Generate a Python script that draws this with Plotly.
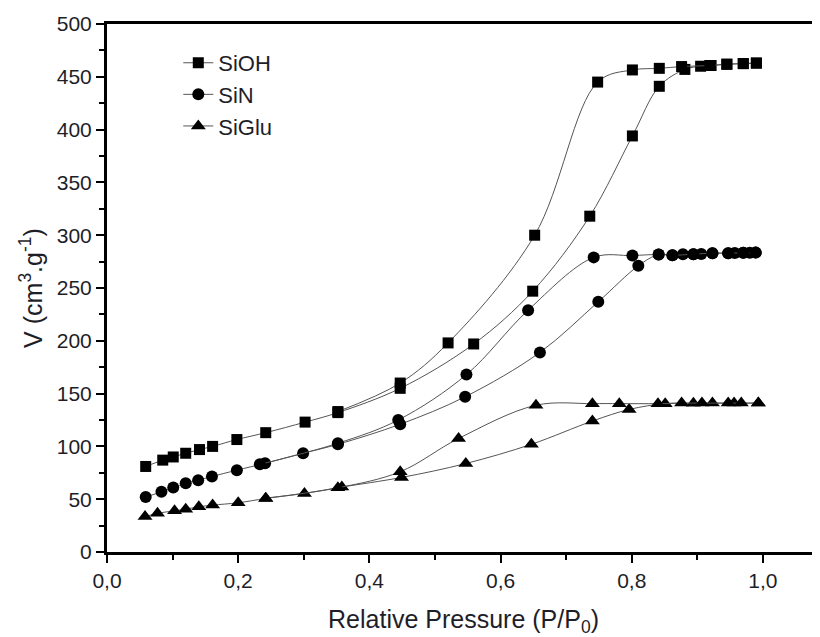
import plotly.graph_objects as go

# SiOH (squares)
sioh_ads_x = [0.059, 0.085, 0.101, 0.120, 0.141, 0.161, 0.198, 0.242, 0.302, 0.352, 0.447, 0.559, 0.649, 0.736, 0.801, 0.842, 0.881, 0.905, 0.921, 0.945, 0.970, 0.990]
sioh_ads_y = [81, 87, 90, 93.5, 97, 100, 106.5, 113, 123, 132, 155, 197, 247, 318, 394, 441, 457, 460, 460.7, 461.9, 462.5, 463]
sioh_des_x = [0.990, 0.970, 0.945, 0.919, 0.876, 0.842, 0.801, 0.748, 0.652, 0.520, 0.447, 0.352]
sioh_des_y = [463, 462.5, 461.9, 460.7, 459.7, 458, 456.5, 445, 300, 198, 160, 133]

# SiN (circles)
sin_ads_x = [0.059, 0.083, 0.101, 0.120, 0.139, 0.160, 0.198, 0.241, 0.299, 0.352, 0.447, 0.546, 0.660, 0.749, 0.810, 0.841, 0.862, 0.878, 0.894, 0.906, 0.923, 0.947, 0.957, 0.970, 0.980, 0.989]
sin_ads_y = [52, 57, 61, 65, 68, 71.5, 77.5, 84, 93.5, 102, 121, 147, 189, 237, 271, 281.7, 281, 282, 282, 282.3, 283, 283, 283.2, 283.3, 283.4, 283.5]
sin_des_x = [0.989, 0.970, 0.947, 0.923, 0.894, 0.862, 0.841, 0.801, 0.742, 0.642, 0.548, 0.444, 0.352, 0.233]
sin_des_y = [283.5, 283.3, 283, 283, 282, 281, 281.7, 280.7, 279, 229, 168, 125, 103, 83]

# SiGlu (triangles)
siglu_ads_x = [0.058, 0.077, 0.103, 0.120, 0.140, 0.161, 0.200, 0.242, 0.301, 0.358, 0.449, 0.547, 0.647, 0.740, 0.796, 0.851, 0.894, 0.923, 0.956, 0.993]
siglu_ads_y = [33.5, 36.6, 39, 40.6, 42.8, 44.4, 46.6, 50.7, 55.5, 61.5, 70.6, 83.8, 102, 124, 135, 140.5, 140.8, 141, 141, 141]
siglu_des_x = [0.993, 0.967, 0.947, 0.907, 0.876, 0.840, 0.781, 0.740, 0.654, 0.536, 0.447, 0.352, 0.242]
siglu_des_y = [141, 141, 141, 141, 141, 140.5, 140.5, 140.5, 139, 107.5, 76, 60.8, 51]

x_tick_vals = [0, 0.2, 0.4, 0.6, 0.8, 1.0]
x_tick_text = ["0,0", "0,2", "0,4", "0,6", "0,8", "1,0"]

series = [
    ("SiOH", "square", 11, sioh_ads_x, sioh_ads_y, sioh_des_x, sioh_des_y),
    ("SiN", "circle", 12, sin_ads_x, sin_ads_y, sin_des_x, sin_des_y),
    ("SiGlu", "triangle-up", 13, siglu_ads_x, siglu_ads_y, siglu_des_x, siglu_des_y),
]

fig = go.Figure()
for name, sym, size, ax, ay, dx, dy in series:
    for i, (xs, ys) in enumerate([(ax, ay), (dx, dy)]):
        fig.add_trace(go.Scatter(
            x=xs, y=ys, mode="lines+markers", name=name,
            legendgroup=name, showlegend=(i == 0),
            line=dict(color="#555555", width=1, shape="spline", smoothing=1),
            marker=dict(symbol=sym, size=size, color="black"),
        ))

font_family = "Arial"
fig.update_layout(
    width=812, height=629,
    margin=dict(l=99, r=0, t=16, b=85),
    paper_bgcolor="white", plot_bgcolor="white",
    font=dict(family=font_family, color="#1e1e28", size=21),
    legend=dict(x=0.1, y=0.966, xanchor="left", yanchor="top",
                font=dict(size=22, color="#1e1e28"), bgcolor="rgba(0,0,0,0)",
                tracegroupgap=0),
    xaxis=dict(
        range=[0, 1.087], tickvals=x_tick_vals, ticktext=x_tick_text,
        ticks="outside", ticklen=8, tickwidth=2, tickcolor="black",
        minor=dict(dtick=0.1, tick0=0, ticks="outside", ticklen=5, tickwidth=2, tickcolor="black"),
        showline=True, linewidth=3, linecolor="black", mirror=True,
        showgrid=False, zeroline=False, automargin=False,
        title=dict(text="Relative Pressure (P/P<sub>0</sub>)", font=dict(size=25), standoff=24),
    ),
    yaxis=dict(
        range=[0, 500], dtick=50, tick0=0,
        ticks="outside", ticklen=8, tickwidth=2, tickcolor="black",
        minor=dict(dtick=25, tick0=0, ticks="outside", ticklen=5, tickwidth=2, tickcolor="black"),
        showline=True, linewidth=3, linecolor="black",
        showgrid=False, zeroline=False, automargin=False,
        title=dict(text="V (cm<sup>3</sup>.g<sup>-1</sup>)", font=dict(size=25), standoff=8),
    ),
)

fig.write_html("out.html")
